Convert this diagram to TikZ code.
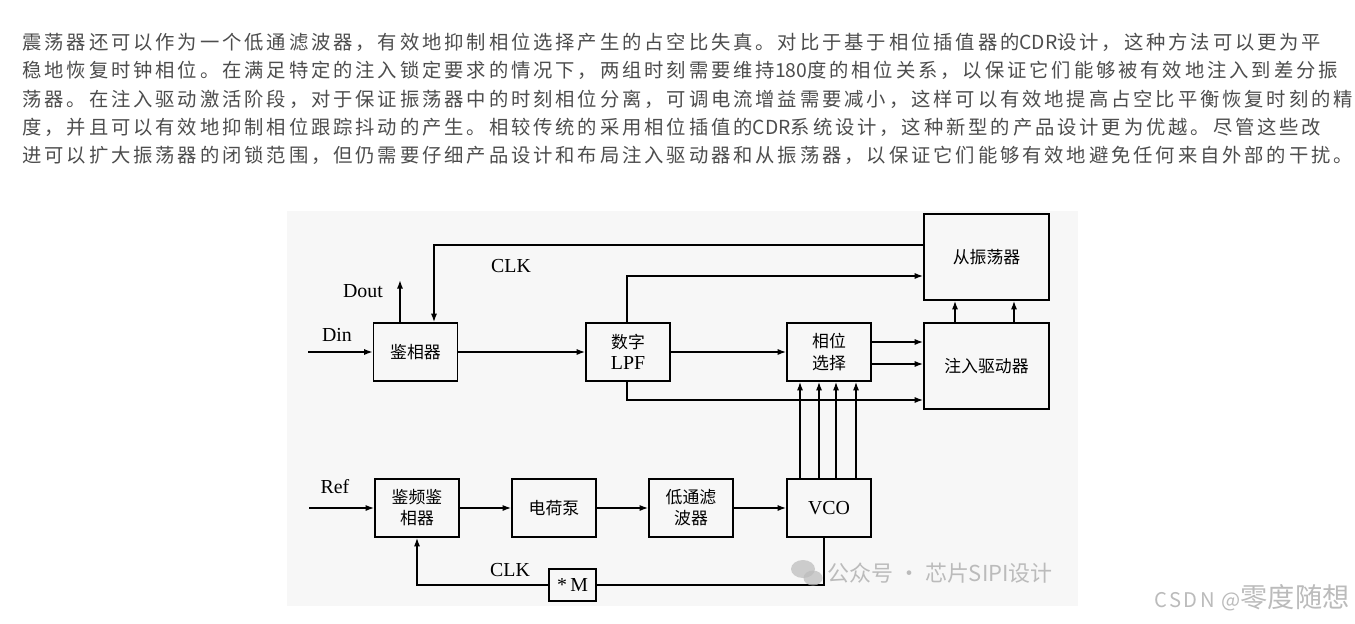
\documentclass[tikz,border=0pt]{standalone}
\usepackage{fontspec}
\setmainfont{Liberation Serif}
\newfontfamily\cjkfont{Noto Sans CJK SC}
\newfontfamily\parafont[LetterSpace=15]{Noto Sans CJK SC}
\newfontfamily\csdnfont[LetterSpace=12]{Noto Sans CJK SC}
\usetikzlibrary{arrows.meta}
\definecolor{txtgray}{HTML}{4D4D4D}
\definecolor{bggray}{HTML}{F7F7F7}
\definecolor{wmgray}{HTML}{BBBBBB}
\newcommand\boxfont{\cjkfont\fontsize{9.6}{12}\selectfont}
\newcommand\latfont{\rmfamily\fontsize{11.3}{13}\selectfont}
\newcommand\tight[1]{{\cjkfont #1}}

\begin{document}
\begin{tikzpicture}[
  x=0.02cm,y=-0.02cm,
  >={Latex[length=1.7mm,width=1.2mm]},
  blk/.style={draw,line width=0.9pt,minimum width=1.68cm,minimum height=1.16cm,inner sep=1pt,align=center,font=\boxfont},
  bigblk/.style={blk,minimum width=2.5cm,minimum height=1.72cm},
  lnk/.style={->,line width=0.8pt},
  wire/.style={line width=0.8pt},
  lbl/.style={font=\latfont,inner sep=0pt},
  para/.style={anchor=west,inner sep=0pt,text=txtgray,font=\parafont\fontsize{11}{12}\selectfont},
  wm/.style={inner sep=0pt,text=wmgray,font=\cjkfont\fontsize{12.5}{14}\selectfont}]

  \fill[white] (0,0) rectangle (1355,623);
  \useasboundingbox (0,0) rectangle (1355,623);

  % text above the figure
  \node[para] (p1) at (22,42)  {震荡器还可以作为一个低通滤波器，有效地抑制相位选择产生的占空比失真。对比于基于相位插值器的\tight{CDR}设计，这种方法可以更为平};
  \node[para] (p2) at (22,70.5) {稳地恢复时钟相位。在满足特定的注入锁定要求的情况下，两组时刻需要维持\tight{180}度的相位关系，以保证它们能够被有效地注入到差分振};
  \node[para] (p3) at (22,99)  {荡器。在注入驱动激活阶段，对于保证振荡器中的时刻相位分离，可调电流增益需要减小，这样可以有效地提高占空比平衡恢复时刻的精};
  \node[para] (p4) at (22,127) {度，并且可以有效地抑制相位跟踪抖动的产生。相较传统的采用相位插值的\tight{CDR}系统设计，这种新型的产品设计更为优越。尽管这些改};
  \node[para] (p5) at (22,155.5) {进可以扩大振荡器的闭锁范围，但仍需要仔细产品设计和布局注入驱动器和从振荡器，以保证它们能够有效地避免任何来自外部的干扰。};

  \fill[bggray] (287,211) rectangle (1078,606);

  % upper loop
  \node[blk] (pd)  at (415.5,352) {鉴相器};
  \node[blk] (lpf) at (628,352)   {数字\\{\latfont LPF}};
  \node[blk] (sel) at (829,352)   {相位\\选择};
  \node[bigblk] (slave) at (986.5,257) {从振荡器};
  \node[bigblk] (inj)   at (986.5,366) {注入驱动器};

  % lower loop
  \node[blk] (pfd) at (417,508) {鉴频鉴\\相器};
  \node[blk] (cp)  at (554,508) {电荷泵};
  \node[blk] (lf)  at (691,508) {低通滤\\波器};
  \node[blk] (vco) at (829,508) {\latfont VCO};
  \node[blk,minimum width=0.94cm,minimum height=0.64cm] (mul) at (572.5,585) {\latfont *\,M};

  \coordinate (din)  at (308,352);
  \coordinate (dout) at (400,280);
  \coordinate (clkT) at (434,245);
  \coordinate (lpfT) at (627,276);
  \coordinate (lpfB) at (627,400);
  \coordinate (ref)  at (309,508);
  \coordinate (vcoB) at (824,585);

  \node[lbl] (dinl)  at (337,335) {Din};
  \node[lbl] (doutl) at (363,291) {Dout};
  \node[lbl] (clk1)  at (511,266) {CLK};
  \node[lbl] (refl)  at (335,487) {Ref};
  \node[lbl] (clk2)  at (510,570) {CLK};

  \draw[lnk] (din) -- (pd);
  \draw[lnk] (pd.north -| dout) -- (dout);
  \draw[lnk] (slave.west |- clkT) -- (clkT) -- (pd.north -| clkT);
  \draw[lnk] (pd) -- (lpf);
  \draw[lnk] (lpf) -- (sel);
  \draw[lnk] (lpf.north -| lpfT) -- (lpfT) -- (slave.west |- lpfT);
  \draw[lnk] (lpf.south -| lpfB) -- (lpfB) -- (inj.west |- lpfB);
  \foreach \y in {342,364}
    \draw[lnk] (sel.east |- 0,\y) -- (inj.west |- 0,\y);
  \foreach \x in {955,1014}
    \draw[lnk] (inj.north -| \x,0) -- (slave.south -| \x,0);
  \foreach \x in {800,819,836,856}
    \draw[lnk] (vco.north -| \x,0) -- (sel.south -| \x,0);

  \draw[lnk] (ref) -- (pfd);
  \draw[lnk] (pfd) -- (cp);
  \draw[lnk] (cp) -- (lf);
  \draw[lnk] (lf) -- (vco);
  \draw[wire] (vco.south -| vcoB) -- (vcoB) -- (mul.east);
  \draw[lnk] (mul.west) -| (pfd.south);

  % watermarks
  \fill[wmgray,opacity=0.7] (803,569) ellipse (12 and 9);
  \fill[wmgray,opacity=0.7] (813,578) ellipse (9.5 and 7.5);
  \node[wm,anchor=west] (wm1) at (827,573) {公众号 · 芯片SIPI设计};
  \node[wm,anchor=east,font=\csdnfont\fontsize{11.5}{13}\selectfont] (wm2) at (1350,598) {CSDN @{\cjkfont\fontsize{15.5}{17}\selectfont 零度随想}};
\end{tikzpicture}
\end{document}
